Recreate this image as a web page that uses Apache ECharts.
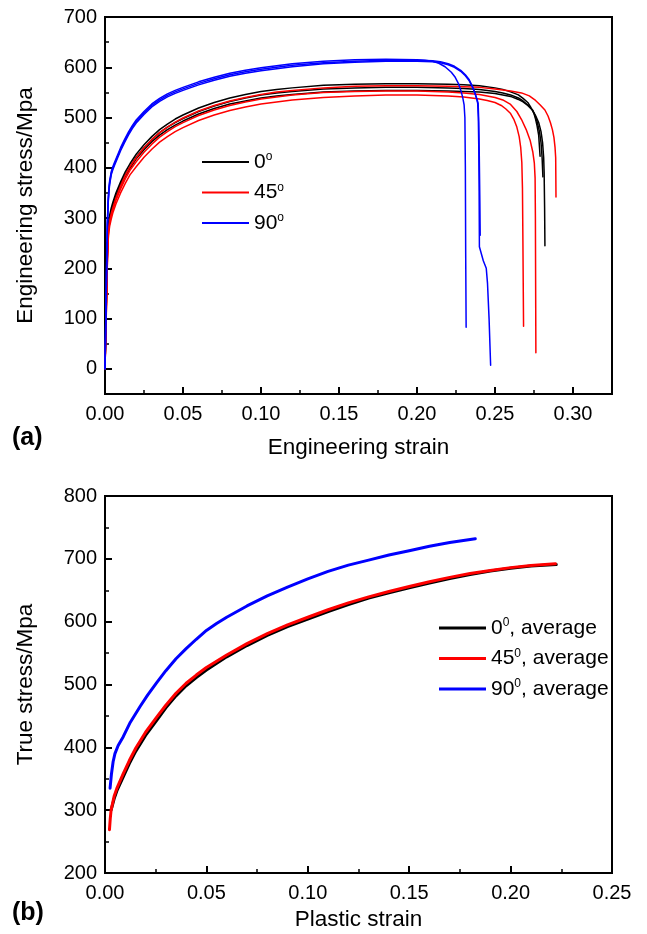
<!DOCTYPE html>
<html>
<head>
<meta charset="utf-8">
<script src="https://cdn.jsdelivr.net/npm/echarts@6/dist/echarts.min.js"></script>
<style>
html,body{margin:0;padding:0;background:#fff;}
#c{width:647px;height:934px;}
</style>
</head>
<body>
<div id="c"></div>
<script>
// ---------- Panel (a): engineering stress-strain ----------
const engXTicks = [0, 0.05, 0.10, 0.15, 0.20, 0.25, 0.30];
const engXMinor = [0.025, 0.075, 0.125, 0.175, 0.225, 0.275];
const engYTicks = [0, 100, 200, 300, 400, 500, 600, 700];
const engYMinor = [50, 150, 250, 350, 450, 550, 650];

const black1 = [[0,0],[0.0005,80],[0.001,160],[0.0015,235],[0.002,278],[0.0025,295],[0.003,306],[0.004,320],[0.005,331],[0.007,350],[0.01,372],[0.013,392],[0.016,408],[0.02,427],[0.025,446],[0.03,462],[0.035,476],[0.04,487],[0.045,497],[0.05,505],[0.06,519],[0.07,530],[0.08,539],[0.09,546],[0.10,552],[0.11,556],[0.12,559],[0.14,564],[0.16,566],[0.18,567],[0.20,567],[0.22,566],[0.23,565],[0.24,563],[0.25,559],[0.255,556],[0.26,551],[0.265,545],[0.268,538],[0.271,530],[0.273,520],[0.275,508],[0.276,497],[0.277,483],[0.278,465],[0.2789,423]];
const black2 = [[0,0],[0.0005,78],[0.001,155],[0.0015,228],[0.002,272],[0.0025,289],[0.003,300],[0.004,314],[0.005,325],[0.007,344],[0.01,367],[0.013,386],[0.016,402],[0.02,421],[0.025,440],[0.03,456],[0.035,470],[0.04,481],[0.045,490],[0.05,498],[0.06,512],[0.07,523],[0.08,532],[0.09,539],[0.10,545],[0.11,549],[0.12,552],[0.14,557],[0.16,559],[0.18,560],[0.20,560],[0.22,559],[0.23,558],[0.24,556],[0.25,552],[0.255,549],[0.26,545],[0.265,539],[0.268,533],[0.271,525],[0.274,515],[0.2755,505],[0.277,492],[0.2785,472],[0.2795,450],[0.2802,420],[0.2807,382]];
const black3 = [[0,0],[0.0005,76],[0.001,152],[0.0015,225],[0.002,270],[0.0025,287],[0.003,297],[0.004,311],[0.005,322],[0.007,341],[0.01,364],[0.013,383],[0.016,399],[0.02,418],[0.025,436],[0.03,452],[0.035,465],[0.04,476],[0.045,485],[0.05,493],[0.06,507],[0.07,518],[0.08,527],[0.09,533],[0.10,539],[0.11,543],[0.12,546],[0.14,551],[0.16,553],[0.18,554],[0.20,554],[0.22,553],[0.23,552],[0.24,551],[0.25,548],[0.255,545],[0.26,542],[0.265,536],[0.268,531],[0.271,524],[0.274,515],[0.276,504],[0.278,490],[0.2795,472],[0.2805,450],[0.2812,420],[0.2815,390],[0.2818,320],[0.282,245]];

const red1 = [[0,0],[0.0005,70],[0.001,142],[0.0015,218],[0.002,265],[0.0025,284],[0.003,295],[0.004,309],[0.005,320],[0.007,340],[0.01,364],[0.013,385],[0.016,402],[0.02,420],[0.025,440],[0.03,456],[0.035,470],[0.04,481],[0.045,491],[0.05,499],[0.06,513],[0.07,524],[0.08,533],[0.09,540],[0.10,546],[0.11,551],[0.12,554],[0.14,559],[0.16,562],[0.18,563],[0.20,563],[0.22,562],[0.24,560],[0.25,557],[0.26,553],[0.267,549],[0.272,543],[0.276,534],[0.279,525],[0.282,515],[0.284,503],[0.2855,490],[0.2868,476],[0.2878,460],[0.2885,440],[0.2889,420],[0.289,380],[0.2891,342]];
const red2 = [[0,0],[0.0005,66],[0.001,138],[0.0015,212],[0.002,262],[0.0025,280],[0.003,291],[0.004,305],[0.005,316],[0.007,335],[0.01,358],[0.013,378],[0.016,395],[0.02,412],[0.025,431],[0.03,447],[0.035,461],[0.04,472],[0.045,482],[0.05,490],[0.06,504],[0.07,515],[0.08,524],[0.09,531],[0.10,537],[0.11,541],[0.12,545],[0.14,550],[0.16,552],[0.18,553],[0.20,553],[0.22,551],[0.23,549],[0.24,546],[0.25,540],[0.255,535],[0.26,526],[0.264,512],[0.267,496],[0.27,476],[0.2725,455],[0.2742,432],[0.2752,410],[0.2757,380],[0.2759,300],[0.2762,32]];
const red3 = [[0,0],[0.0005,62],[0.001,130],[0.0015,205],[0.002,255],[0.0025,273],[0.003,284],[0.004,298],[0.005,310],[0.007,328],[0.01,350],[0.013,369],[0.016,386],[0.02,402],[0.025,421],[0.03,437],[0.035,451],[0.04,462],[0.045,472],[0.05,480],[0.06,494],[0.07,505],[0.08,514],[0.09,521],[0.10,527],[0.11,531],[0.12,535],[0.14,540],[0.16,543],[0.18,545],[0.20,545],[0.22,543],[0.23,541],[0.24,537],[0.245,534],[0.25,530],[0.254,524],[0.257,517],[0.26,508],[0.262,497],[0.264,481],[0.2655,462],[0.2665,440],[0.2672,410],[0.2676,360],[0.2679,250],[0.2683,85]];

const blue1 = [[0,0],[0.0005,100],[0.001,200],[0.0015,290],[0.002,335],[0.0025,360],[0.003,375],[0.004,392],[0.005,402],[0.006,410],[0.008,425],[0.01,440],[0.0125,456],[0.015,471],[0.0175,484],[0.02,495],[0.025,512],[0.03,527],[0.035,538],[0.04,547],[0.045,554],[0.05,560],[0.06,571],[0.07,580],[0.08,588],[0.09,594],[0.10,599],[0.11,603],[0.12,607],[0.14,612],[0.16,615],[0.18,616],[0.20,615],[0.205,614],[0.21,612],[0.214,608],[0.218,601],[0.222,590],[0.2245,580],[0.2265,568],[0.228,555],[0.2293,540],[0.2302,525],[0.2307,500],[0.231,400],[0.2312,236],[0.2315,83]];
const blue2 = [[0,0],[0.0005,97],[0.001,195],[0.0015,285],[0.002,331],[0.0025,356],[0.003,371],[0.004,389],[0.005,399],[0.006,407],[0.008,422],[0.01,437],[0.0125,453],[0.015,468],[0.0175,481],[0.02,492],[0.025,509],[0.03,524],[0.035,535],[0.04,544],[0.045,551],[0.05,557],[0.06,568],[0.07,577],[0.08,585],[0.09,591],[0.10,596],[0.11,600],[0.12,604],[0.14,609],[0.16,612],[0.18,614],[0.20,614],[0.21,613],[0.215,611],[0.22,607],[0.224,602],[0.228,594],[0.231,585],[0.2335,575],[0.2355,562],[0.237,550],[0.2382,538],[0.2389,528],[0.2393,500],[0.2396,440],[0.2398,369],[0.240,243],[0.2425,215],[0.2444,200],[0.2452,170],[0.2462,100],[0.2472,7]];
const blue3 = [[0,0],[0.0005,94],[0.001,190],[0.0015,280],[0.002,327],[0.0025,352],[0.003,367],[0.004,386],[0.005,396],[0.006,404],[0.008,419],[0.01,434],[0.0125,450],[0.015,465],[0.0175,478],[0.02,489],[0.025,506],[0.03,521],[0.035,532],[0.04,541],[0.045,548],[0.05,554],[0.06,565],[0.07,574],[0.08,582],[0.09,588],[0.10,593],[0.11,597],[0.12,601],[0.14,607],[0.16,610],[0.18,612],[0.20,612],[0.21,611],[0.215,609],[0.22,605],[0.224,600],[0.228,592],[0.231,583],[0.2335,573],[0.2355,561],[0.237,550],[0.2385,536],[0.2392,528],[0.2396,490],[0.2399,430],[0.2403,330],[0.2405,266]];

// ---------- Panel (b): true stress vs plastic strain ----------
const plXTicks = [0, 0.05, 0.10, 0.15, 0.20, 0.25];
const plXMinor = [0.025, 0.075, 0.125, 0.175, 0.225];
const trYTicks = [200, 300, 400, 500, 600, 700, 800];
const trYMinor = [250, 350, 450, 550, 650, 750];

const avg0 = [[0.003,300],[0.0045,318],[0.006,332],[0.009,353],[0.012,374],[0.0152,394],[0.02,419],[0.0255,443],[0.03,463],[0.035,482],[0.04,498],[0.045,511],[0.05,523],[0.06,544],[0.07,562],[0.08,578],[0.09,592],[0.10,604],[0.11,616],[0.12,627],[0.13,637.5],[0.14,646],[0.15,654],[0.16,661.5],[0.17,668.5],[0.18,675],[0.19,680.5],[0.20,685],[0.21,688.5],[0.2225,691]];
const avg45 = [[0.0022,269],[0.0026,287],[0.003,300],[0.0045,322],[0.006,336],[0.009,358],[0.012,379],[0.0152,399],[0.02,424],[0.0255,448],[0.03,467],[0.035,486],[0.04,502],[0.045,515],[0.05,527],[0.06,547],[0.07,565],[0.08,581],[0.09,595],[0.10,607],[0.11,619],[0.12,630],[0.13,639.5],[0.14,648],[0.15,656],[0.16,663.5],[0.17,670.5],[0.18,676.5],[0.19,681.5],[0.20,686],[0.21,689.5],[0.2221,692]];
const avg90 = [[0.0025,335],[0.0032,358],[0.004,377],[0.0049,390],[0.0065,403],[0.009,417],[0.0125,440],[0.0173,465],[0.021,483],[0.0255,503],[0.03,522],[0.035,541],[0.04,557],[0.045,572],[0.05,586],[0.055,597],[0.06,607],[0.07,625],[0.08,641],[0.09,655],[0.10,668],[0.11,680],[0.12,690],[0.13,698],[0.14,706],[0.15,713],[0.16,720],[0.17,726],[0.1826,732]];

const legendA = ['0°', '45°', '90°'];
const legendB = ['0⁰, average', '45⁰, average', '90⁰, average'];

const FONT = 'Liberation Sans, Arial, sans-serif';
const BLACK = '#000000', RED = '#ff0000', BLUE = '#0000ff';

function mainX(grid, min, max, ticks, name, gap) {
  return {
    gridIndex: grid, type: 'value', min: min, max: max, interval: 0.05,
    axisLine: {show: true, onZero: false, lineStyle: {color: '#000', width: 2}},
    axisTick: {show: true, inside: true, length: 7, customValues: ticks, lineStyle: {color: '#000', width: 2}},
    axisLabel: {customValues: ticks, formatter: v => v.toFixed(2), fontSize: 20, color: '#000', margin: 10, fontFamily: FONT},
    splitLine: {show: false},
    name: name, nameLocation: 'middle', nameGap: gap,
    nameTextStyle: {fontSize: 22.5, color: '#000', fontFamily: FONT}
  };
}
function minorX(grid, min, max, ticks) {
  return {
    gridIndex: grid, type: 'value', min: min, max: max, position: 'bottom',
    axisLine: {show: false, onZero: false},
    axisTick: {show: true, inside: true, length: 4, customValues: ticks, lineStyle: {color: '#000', width: 1.5}},
    axisLabel: {show: false}, splitLine: {show: false}
  };
}
function mainY(grid, min, max, ticks, name, gap) {
  return {
    gridIndex: grid, type: 'value', min: min, max: max, interval: 50,
    axisLine: {show: true, onZero: false, lineStyle: {color: '#000', width: 2}},
    axisTick: {show: true, inside: true, length: 7, customValues: ticks, lineStyle: {color: '#000', width: 2}},
    axisLabel: {customValues: ticks, fontSize: 20, color: '#000', margin: 8, fontFamily: FONT},
    splitLine: {show: false},
    name: name, nameLocation: 'middle', nameGap: gap,
    nameTextStyle: {fontSize: 22.5, color: '#000', fontFamily: FONT}
  };
}
function minorY(grid, min, max, ticks) {
  return {
    gridIndex: grid, type: 'value', min: min, max: max, position: 'left',
    axisLine: {show: false, onZero: false},
    axisTick: {show: true, inside: true, length: 4, customValues: ticks, lineStyle: {color: '#000', width: 1.5}},
    axisLabel: {show: false}, splitLine: {show: false}
  };
}
function line(name, data, color, width, xi, yi) {
  return {
    type: 'line', name: name, data: data, xAxisIndex: xi, yAxisIndex: yi,
    showSymbol: false, symbol: 'none', smooth: false,
    lineStyle: {color: color, width: width, join: 'round', cap: 'round'}, itemStyle: {color: color},
    emphasis: {disabled: true}, silent: true, z: 3
  };
}

const richStyle = {
  n: {fontSize: 21, fontFamily: FONT, color: '#000', lineHeight: 22},
  s: {fontSize: 12, fontFamily: FONT, color: '#000', verticalAlign: 'top', lineHeight: 22}
};

const chart = echarts.init(document.getElementById('c'), null, {renderer: 'canvas'});
chart.setOption({
  animation: false,
  backgroundColor: '#fff',
  grid: [
    {left: 105, top: 17, width: 507, height: 377, show: true, borderColor: '#000', borderWidth: 2, containLabel: false},
    {left: 105, top: 496, width: 507, height: 377, show: true, borderColor: '#000', borderWidth: 2, containLabel: false}
  ],
  xAxis: [
    mainX(0, 0, 0.325, engXTicks, 'Engineering strain', 42),
    minorX(0, 0, 0.325, engXMinor),
    mainX(1, 0, 0.25, plXTicks, 'Plastic strain', 35),
    minorX(1, 0, 0.25, plXMinor)
  ],
  yAxis: [
    mainY(0, -50, 700, engYTicks, 'Engineering stress/Mpa', 68),
    minorY(0, -50, 700, engYMinor),
    mainY(1, 200, 800, trYTicks, 'True stress/Mpa', 68),
    minorY(1, 200, 800, trYMinor)
  ],
  legend: [
    {
      data: legendA, orient: 'vertical', left: 197, top: 146, itemWidth: 47, itemHeight: 2, itemGap: 9,
      icon: 'rect', selectedMode: false,
      formatter: n => '{n|' + n.replace('°', '') + '}{s|o}',
      textStyle: {fontFamily: FONT, color: '#000', rich: richStyle}
    },
    {
      data: legendB, orient: 'vertical', left: 434, top: 612, itemWidth: 47, itemHeight: 3, itemGap: 9,
      icon: 'rect', selectedMode: false,
      formatter: n => { const p = n.split('⁰'); return '{n|' + p[0] + '}{s|0}{n|' + p[1] + '}'; },
      textStyle: {fontFamily: FONT, color: '#000', rich: richStyle}
    }
  ],
  graphic: [
    {type: 'text', left: 12, top: 426, style: {text: '(a)', font: 'bold 25px ' + FONT, fill: '#000'}},
    {type: 'text', left: 12, top: 901, style: {text: '(b)', font: 'bold 25px ' + FONT, fill: '#000'}}
  ],
  series: [
    line('0°', black1, BLACK, 1.5, 0, 0),
    line('0°', black2, BLACK, 1.5, 0, 0),
    line('0°', black3, BLACK, 1.5, 0, 0),
    line('45°', red1, RED, 1.5, 0, 0),
    line('45°', red2, RED, 1.5, 0, 0),
    line('45°', red3, RED, 1.5, 0, 0),
    line('90°', blue1, BLUE, 1.5, 0, 0),
    line('90°', blue2, BLUE, 1.5, 0, 0),
    line('90°', blue3, BLUE, 1.5, 0, 0),
    line('0⁰, average', avg0, BLACK, 3, 2, 2),
    line('45⁰, average', avg45, RED, 3, 2, 2),
    line('90⁰, average', avg90, BLUE, 3, 2, 2)
  ]
});
</script>
</body>
</html>
